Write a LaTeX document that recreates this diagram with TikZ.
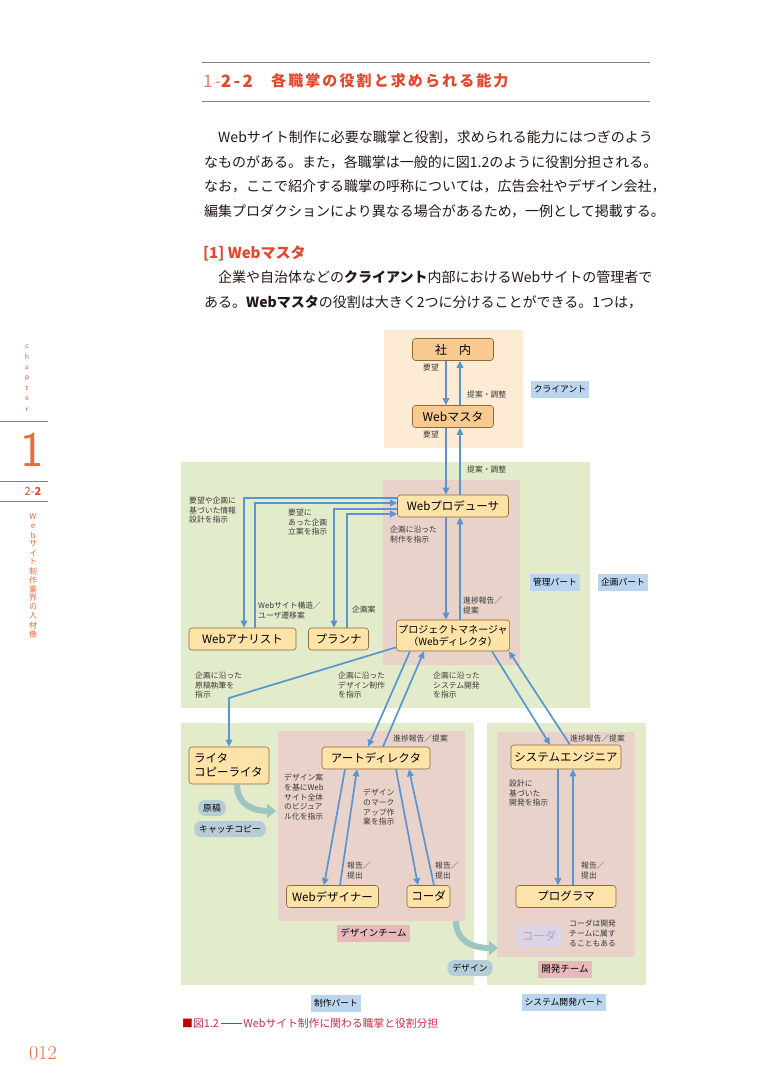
\documentclass[tikz,border=0pt]{standalone}
\usepackage{fontspec}
\newfontfamily\jp{Noto Sans CJK JP}
\newfontfamily\jpsp{Noto Sans CJK JP}[LetterSpace=14]
\usetikzlibrary{arrows.meta}
\definecolor{titlered}{HTML}{E5472C}
\definecolor{titlelight}{HTML}{EE7A5E}
\definecolor{marginorange}{HTML}{EA6B3F}
\definecolor{captionred}{HTML}{CC2F45}
\definecolor{bodyink}{HTML}{231815}
\definecolor{boxline}{HTML}{8E6B3C}
\definecolor{roleyellow}{HTML}{FDE3A7}
\definecolor{clientorange}{HTML}{F9CA8F}
\definecolor{clientbg}{HTML}{FDEBD3}
\definecolor{plangreen}{HTML}{E2ECCA}
\definecolor{mauve}{HTML}{E8D2C9}
\definecolor{tagblue}{HTML}{BCD5EE}
\definecolor{teampink}{HTML}{E8B9BB}
\definecolor{pillgrey}{HTML}{B6CDD8}
\definecolor{handteal}{HTML}{9DC5C2}
\definecolor{flowblue}{HTML}{5895D3}
\definecolor{notegrey}{HTML}{3A3A3A}
\definecolor{ghostfill}{HTML}{DCD4E4}
\definecolor{ghosttext}{HTML}{ACA4C6}
\tikzset{
  % a job box
  role/.style    = {draw=boxline, fill=roleyellow, rounded corners=3pt,
                    line width=0.6pt, inner sep=2pt, minimum height=22pt,
                    font=\jp\fontsize{11.5}{13}\selectfont},
  % a box on the client side
  client/.style  = {role, fill=clientorange, font=\jp\fontsize{12}{13}\selectfont},
  % the name of an area
  tag/.style     = {fill=tagblue, inner sep=3pt, minimum height=17pt,
                    font=\jp\fontsize{8.8}{10}\selectfont},
  teamtag/.style = {tag, fill=teampink, font=\jp\fontsize{9.5}{10}\selectfont},
  % what is handed over
  pill/.style    = {fill=pillgrey, rounded corners=7pt, minimum height=16pt,
                    inner xsep=5pt, inner ysep=1pt,
                    font=\jp\fontsize{8.8}{10}\selectfont},
  % a connector label
  note/.style    = {anchor=north west, align=left, inner sep=0pt, text=notegrey,
                    font=\jp\fontsize{7.8}{9.6}\selectfont},
  % an instruction or report
  flow/.style    = {-{Triangle[length=7pt,width=6.5pt]}, line width=1.7pt, flowblue},
  % the broad hand-over arrow
  hand/.style    = {-{Triangle[length=9pt,width=14pt]}, line width=6pt, handteal},
  % page text
  body/.style    = {anchor=west, inner sep=0pt, text=bodyink,
                    font=\jp\fontsize{14}{14}\selectfont},
  margin/.style  = {inner sep=0pt, text=marginorange},
}

\begin{document}
\begin{tikzpicture}[x=1pt, y=-1pt]
  \fill[white] (0,0) rectangle (768,1084);
  \useasboundingbox (0,0) rectangle (768,1084);

  % heading
  \draw[gray, line width=0.8pt] (202,62) -- (650,62);
  \draw[gray, line width=0.8pt] (202,101) -- (650,101);
  \node[anchor=west, inner sep=0pt, text=titlered,
        font=\jpsp\fontsize{17}{17}\selectfont] (secno) at (203,81)
        {{\color{titlelight}1-}\textbf{2-2}};
  \node[anchor=west, inner sep=0pt, text=titlered,
        font=\jpsp\fontsize{15}{16}\selectfont\bfseries] (sectitle) at (271,81)
        {各職掌の役割と求められる能力};

  % body text
  \node[body] (l1) at (204,137) {　Webサイト制作に必要な職掌と役割，求められる能力にはつぎのよう};
  \node[body] (l2) at (204,162) {なものがある。また，各職掌は一般的に図1.2のように役割分担される。};
  \node[body] (l3) at (204,186) {なお，ここで紹介する職掌の呼称については，広告会社やデザイン会社，};
  \node[body] (l4) at (204,211) {編集プロダクションにより異なる場合があるため，一例として掲載する。};
  \node[anchor=west, inner sep=0pt, text=titlered,
        font=\jp\fontsize{15}{16}\selectfont\bfseries] (sub1) at (203,253) {[1] Webマスタ};
  \node[body] (l5) at (204,277) {　企業や自治体などの\textbf{クライアント}内部におけるWebサイトの管理者で};
  \node[body] (l6) at (204,302) {ある。\textbf{Webマスタ}の役割は大きく2つに分けることができる。1つは，};

  % margin
  \foreach \ch [count=\i] in {c,h,a,p,t,e,r}
    \node[margin, font=\sffamily\fontsize{8}{8}\selectfont] at (27,336+10.5*\i) {\ch};
  \draw[gray] (0,421) -- (48,421);
  \node[margin, font=\sffamily\fontsize{50}{50}\selectfont] (chapno) at (32,450) {1};
  \draw[gray] (0,481) -- (48,481);
  \node[margin, text=titlered, font=\jp\fontsize{11}{11}\selectfont] (secmark) at (33,491)
        {2-\textbf{2}};
  \draw[gray] (0,501) -- (48,501);
  \foreach \ch [count=\i] in {W,e,b,サ,イ,ト,制,作,業,界,の,人,材,像}
    \node[margin, font=\jp\fontsize{8}{8}\selectfont] at (33,508+9*\i) {\ch};
  \node[margin, font=\rmfamily\fontsize{20}{20}\selectfont] (pageno) at (43,1053) {012};

  % areas
  \fill[clientbg]  (384,330) rectangle (523,448);
  \fill[plangreen] (181,462) rectangle (590,708);
  \fill[mauve]     (383,480) rectangle (520,665);
  \fill[plangreen] (181,723) rectangle (474,985);
  \fill[mauve]     (278,731) rectangle (465,921);
  \fill[plangreen] (487,723) rectangle (646,985);
  \fill[mauve]     (497,732) rectangle (635,957);

  % jobs
  \node[client, minimum width=81pt] (shanai) at (453,349.5) {社　内};
  \node[client, minimum width=81pt] (master) at (453,416.5) {Webマスタ};
  \node[role, minimum width=111pt] (producer) at (453,506) {Webプロデューサ};
  \node[role, minimum width=111pt, minimum height=31pt, align=center,
        font=\jp\fontsize{10}{12}\selectfont] (pm) at (453,635.5)
        {プロジェクトマネージャ\\（Webディレクタ）};
  \node[role, minimum width=107pt] (analyst) at (242.5,639) {Webアナリスト};
  \node[role, minimum width=60pt] (planner) at (338.5,639) {プランナ};
  \node[role, minimum width=80pt, minimum height=37pt, text width=70pt,
        align=left, font=\jp\fontsize{11.5}{14}\selectfont] (writer) at (229,765.5)
        {ライタ\\コピーライタ};
  \node[role, minimum width=108pt] (ad) at (376,758) {アートディレクタ};
  \node[role, minimum width=92pt] (designer) at (332.5,896.5) {Webデザイナー};
  \node[role, minimum width=43pt] (coder) at (428.5,896.5) {コーダ};
  \node[role, minimum width=110pt, minimum height=24pt] (se) at (566,757) {システムエンジニア};
  \node[role, minimum width=100pt] (prog) at (566,896.5) {プログラマ};
  \node[role, draw=none, fill=ghostfill, text=ghosttext, minimum width=46pt]
        (ghost) at (539,936) {コーダ};

  % area names
  \node[tag] (clienttag) at (560,389) {クライアント};
  \node[tag] (kanritag) at (555,582) {管理パート};
  \node[tag] (kikakutag) at (623,582) {企画パート};
  \node[tag] (seisakutag) at (336,1003) {制作パート};
  \node[tag] (devparttag) at (564,1002) {システム開発パート};
  \node[teamtag] (designteam) at (373.5,933) {デザインチーム};
  \node[teamtag] (devteam) at (565,969) {開発チーム};

  % client side
  \draw[flow] ([xshift=-7pt]shanai.south) -- ([xshift=-7pt]master.north);
  \draw[flow] ([xshift=7pt]master.north) -- ([xshift=7pt]shanai.south);
  \draw[flow] ([xshift=-7pt]master.south) -- ([xshift=-7pt]producer.north);
  \draw[flow] ([xshift=7pt]producer.north) -- ([xshift=7pt]master.south);
  \node[note] at (423,364) {要望};
  \node[note] at (467,391) {提案・調整};
  \node[note] at (423,431) {要望};
  \node[note] at (467,466) {提案・調整};

  % planning part
  \draw[flow] ([yshift=8pt]producer.west) -| ([xshift=1.5pt]analyst.north);
  \draw[flow] ([xshift=12.5pt]analyst.north) |- ([yshift=3pt]producer.west);
  \draw[flow] ([yshift=-3pt]producer.west) -| ([xshift=-4.5pt]planner.north);
  \draw[flow] ([xshift=8.5pt]planner.north) |- ([yshift=-8pt]producer.west);
  \draw[flow] ([xshift=-7pt]producer.south) -- ([xshift=-7pt]pm.north);
  \draw[flow] ([xshift=7pt]pm.north) -- ([xshift=7pt]producer.south);
  \node[note] at (189,497) {要望や企画に\\基づいた情報\\設計を指示};
  \node[note] at (288,509) {要望に\\あった企画\\立案を指示};
  \node[note] at (258,602) {Webサイト構造／\\ユーザ遷移案};
  \node[note] at (352,606) {企画案};
  \node[note] at (390,526) {企画に沿った\\制作を指示};
  \node[note] at (463,597) {進捗報告／\\提案};

  % from the director
  \coordinate (wbend) at (229,698);
  \draw[flow] ([yshift=4pt]pm.south west) -- (wbend) -- (writer.north);
  \draw[flow] ([xshift=-43pt]pm.south) -- ([xshift=-8pt]ad.north);
  \draw[flow] ([xshift=7pt]ad.north) -- ([xshift=-29pt]pm.south);
  \draw[flow] ([xshift=39pt]pm.south) -- ([xshift=-16pt]se.north);
  \draw[flow] ([xshift=4pt]se.north) -- ([xshift=-1pt]pm.south east);
  \node[note] at (195,672) {企画に沿った\\原稿執筆を\\指示};
  \node[note] at (338,672) {企画に沿った\\デザイン制作\\を指示};
  \node[note] at (433,672) {企画に沿った\\システム開発\\を指示};

  % design team
  \draw[flow] ([xshift=-31pt]ad.south) -- ([xshift=-8.5pt]designer.north);
  \draw[flow] ([xshift=7.5pt]designer.north) -- ([xshift=-19pt]ad.south);
  \draw[flow] ([xshift=20pt]ad.south) -- ([xshift=-10.5pt]coder.north);
  \draw[flow] ([xshift=5.5pt]coder.north) -- ([xshift=33pt]ad.south);
  \node[note] at (393,735) {進捗報告／提案};
  \node[note] at (284,774) {デザイン案\\を基にWeb\\サイト全体\\のビジュア\\ル化を指示};
  \node[note] at (363,789) {デザイン\\のマーク\\アップ作\\業を指示};
  \node[note] at (347,862) {報告／\\提出};
  \node[note] at (435,862) {報告／\\提出};

  % development team
  \draw[flow] ([xshift=-8pt]se.south) -- ([xshift=-8pt]prog.north);
  \draw[flow] ([xshift=7pt]prog.north) -- ([xshift=7pt]se.south);
  \node[note] at (570,735) {進捗報告／提案};
  \node[note] at (509,780) {設計に\\基づいた\\開発を指示};
  \node[note] at (581,862) {報告／\\提出};
  \node[note] at (569,920) {コーダは開発\\チームに属す\\ることもある};

  % hand-overs
  \coordinate (copyin) at (276,811);
  \draw[hand] ([xshift=8pt]writer.south) .. controls +(0,22) and +(-20,0) .. (copyin);
  \node[pill] (genko) at (212,808) {原稿};
  \node[pill] (catch) at (230,829) {キャッチコピー};
  \coordinate (teamout) at (456,921);
  \coordinate (devin) at (498,948);
  \draw[hand] (teamout) .. controls +(0,22) and +(-22,0) .. (devin);
  \node[pill] (designpill) at (470,968) {デザイン};

  % caption
  \node[anchor=west, inner sep=0pt, text=captionred,
        font=\jp\fontsize{10.8}{12}\selectfont] (caption) at (182,1023)
        {{\color{red!75!black}■}図1.2\,\rule[3.6pt]{21pt}{0.6pt}\,Webサイト制作に関わる職掌と役割分担};
\end{tikzpicture}
\end{document}
